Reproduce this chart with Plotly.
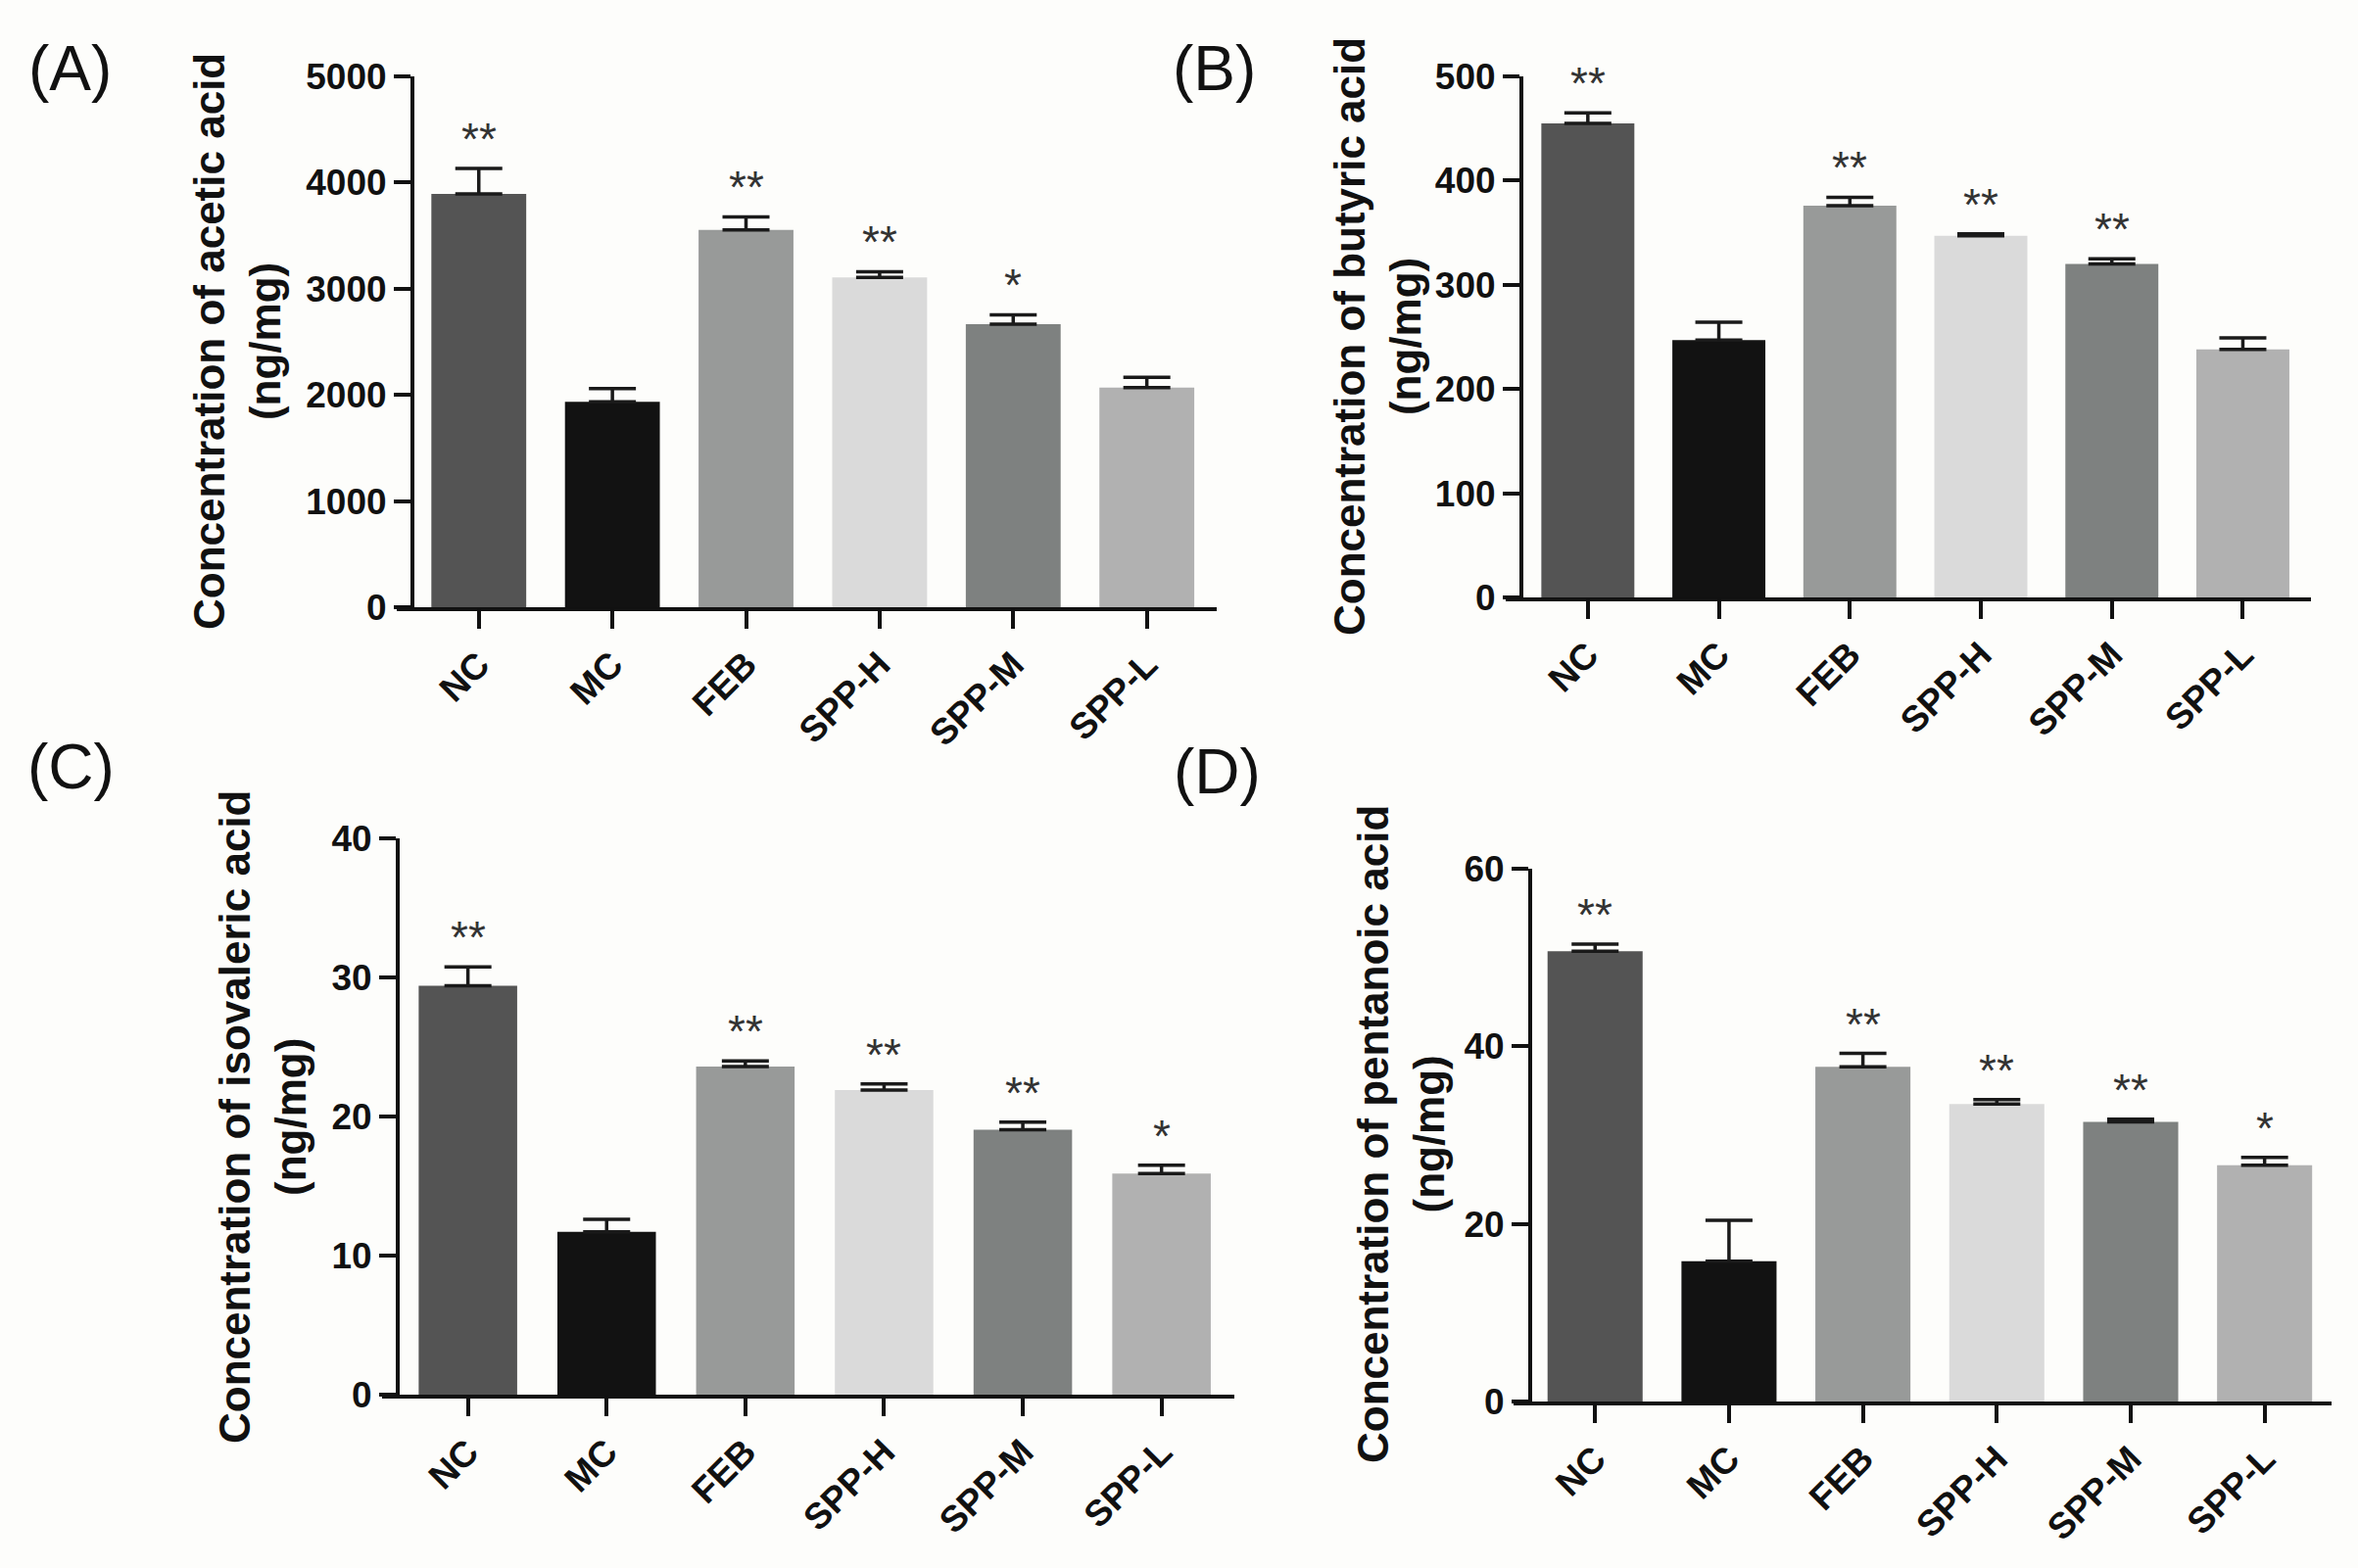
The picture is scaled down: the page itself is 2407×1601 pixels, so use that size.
import plotly.graph_objects as go

W, H = 2407, 1601

groups = ['NC', 'MC', 'FEB', 'SPP-H', 'SPP-M', 'SPP-L']
bar_colors = ['#545454', '#121212', '#989a99', '#dadada', '#7e8180', '#b1b1b1']

# mean values and upper error (SEM) for each acid
acetic_mean = [3893, 1934, 3554, 3106, 2665, 2068]
acetic_sem = [240, 125, 123, 54, 89, 98]
acetic_sig = ['**', '', '**', '**', '*', '']

butyric_mean = [455, 247, 376, 347, 320, 238]
butyric_sem = [10, 17, 8, 2, 5, 11]
butyric_sig = ['**', '', '**', '**', '**', '']

isovaleric_mean = [29.4, 11.7, 23.6, 21.9, 19.05, 15.9]
isovaleric_sem = [1.35, 0.9, 0.4, 0.45, 0.55, 0.6]
isovaleric_sig = ['**', '', '**', '**', '**', '*']

pentanoic_mean = [50.7, 15.8, 37.7, 33.5, 31.5, 26.6]
pentanoic_sem = [0.8, 4.6, 1.5, 0.5, 0.3, 0.9]
pentanoic_sig = ['**', '', '**', '**', '**', '*']

titles = ['Concentration of acetic acid<br>(ng/mg)',
          'Concentration of butyric acid<br>(ng/mg)',
          'Concentration of isovaleric acid<br>(ng/mg)',
          'Concentration of pentanoic acid<br>(ng/mg)']
letters = ['(A)', '(B)', '(C)', '(D)']

# panel geometry in page pixels:
# y-axis x, x-axis start, x-axis end, y of zero, y of top, x range, y max, dtick,
# title centre (x, y), letter centre (x, y)
panels = [
    dict(yx=421, x0=405, x1=1242, ybot=620, ytop=78, xr=[-0.614, 5.523], ymax=5000, dtick=1000,
         tx=242, ty=349, lx=71, ly=70),
    dict(yx=1553, x0=1537, x1=2359, ybot=610, ytop=78, xr=[-0.627, 5.52], ymax=500, dtick=100,
         tx=1406, ty=344, lx=1240, ly=70),
    dict(yx=406, x0=390, x1=1260, ybot=1424, ytop=856, xr=[-0.619, 5.525], ymax=40, dtick=10,
         tx=268, ty=1140, lx=72, ly=783),
    dict(yx=1562, x0=1545, x1=2380, ybot=1431, ytop=887, xr=[-0.609, 5.50], ymax=60, dtick=20,
         tx=1430, ty=1158, lx=1242, ly=788),
]

data = [(acetic_mean, acetic_sem, acetic_sig),
        (butyric_mean, butyric_sem, butyric_sig),
        (isovaleric_mean, isovaleric_sem, isovaleric_sig),
        (pentanoic_mean, pentanoic_sem, pentanoic_sig)]

FONT = 'Liberation Sans, Arial, sans-serif'
AX = '#111111'


def fx(px):
    return px / W


def fy(py):
    return 1 - py / H


fig = go.Figure()
annotations = []

for k, (p, (mean, sem, sig)) in enumerate(zip(panels, data), start=1):
    sfx = '' if k == 1 else str(k)
    fig.add_trace(go.Bar(
        x=groups, y=mean,
        width=0.71,
        marker=dict(color=bar_colors, line=dict(width=0)),
        error_y=dict(type='data', symmetric=False, array=sem, arrayminus=[0] * len(sem),
                     color='#1a1a1a', thickness=3.5, width=24),
        xaxis='x' + sfx, yaxis='y' + sfx,
        showlegend=False, hoverinfo='skip',
    ))

    fig.layout['xaxis' + sfx] = dict(
        domain=[fx(p['x0']), fx(p['x1'])], range=p['xr'], anchor='y' + sfx,
        type='category', showline=True, linewidth=4, linecolor=AX,
        ticks='outside', ticklen=18, tickwidth=4, tickcolor=AX,
        tickangle=-45, tickfont=dict(family=FONT, size=37, color='#111', weight='bold'),
        showgrid=False, zeroline=False, fixedrange=True, automargin=False,
    )
    fig.layout['yaxis' + sfx] = dict(
        domain=[fy(p['ybot']), fy(p['ytop'])], range=[0, p['ymax']],
        anchor='free', position=fx(p['yx']),
        dtick=p['dtick'], tick0=0,
        showline=True, linewidth=4, linecolor=AX,
        ticks='outside', ticklen=17, tickwidth=4, tickcolor=AX,
        tickfont=dict(family=FONT, size=37, color='#111', weight='bold'),
        showgrid=False, zeroline=False, fixedrange=True, automargin=False,
    )

    # significance stars above the error bars
    for g, m, s, st in zip(groups, mean, sem, sig):
        if st:
            annotations.append(dict(
                x=g, y=m + s, xref='x' + sfx, yref='y' + sfx,
                text=st, showarrow=False, yanchor='bottom', yshift=2,
                font=dict(family=FONT, size=46, color='#333'),
            ))

    annotations.append(dict(
        x=fx(p['tx']), y=fy(p['ty']), xref='paper', yref='paper',
        text=titles[k - 1], textangle=-90, showarrow=False,
        xanchor='center', yanchor='middle',
        font=dict(family=FONT, size=44, color='#111', weight='bold'),
    ))
    annotations.append(dict(
        x=fx(p['lx']), y=fy(p['ly']), xref='paper', yref='paper',
        text=letters[k - 1], showarrow=False, xanchor='center', yanchor='middle',
        font=dict(family=FONT, size=64, color='#111'),
    ))

fig.update_layout(
    width=W, height=H,
    margin=dict(l=0, r=0, t=0, b=0, autoexpand=False),
    paper_bgcolor='#fdfdfb', plot_bgcolor='rgba(0,0,0,0)',
    annotations=annotations,
    bargap=0.29,
)

# drop the browser's default body margin so the figure sits at the page origin
fig.write_html('out.html', config={'displayModeBar': False},
               post_script="document.body.style.margin='0';")
